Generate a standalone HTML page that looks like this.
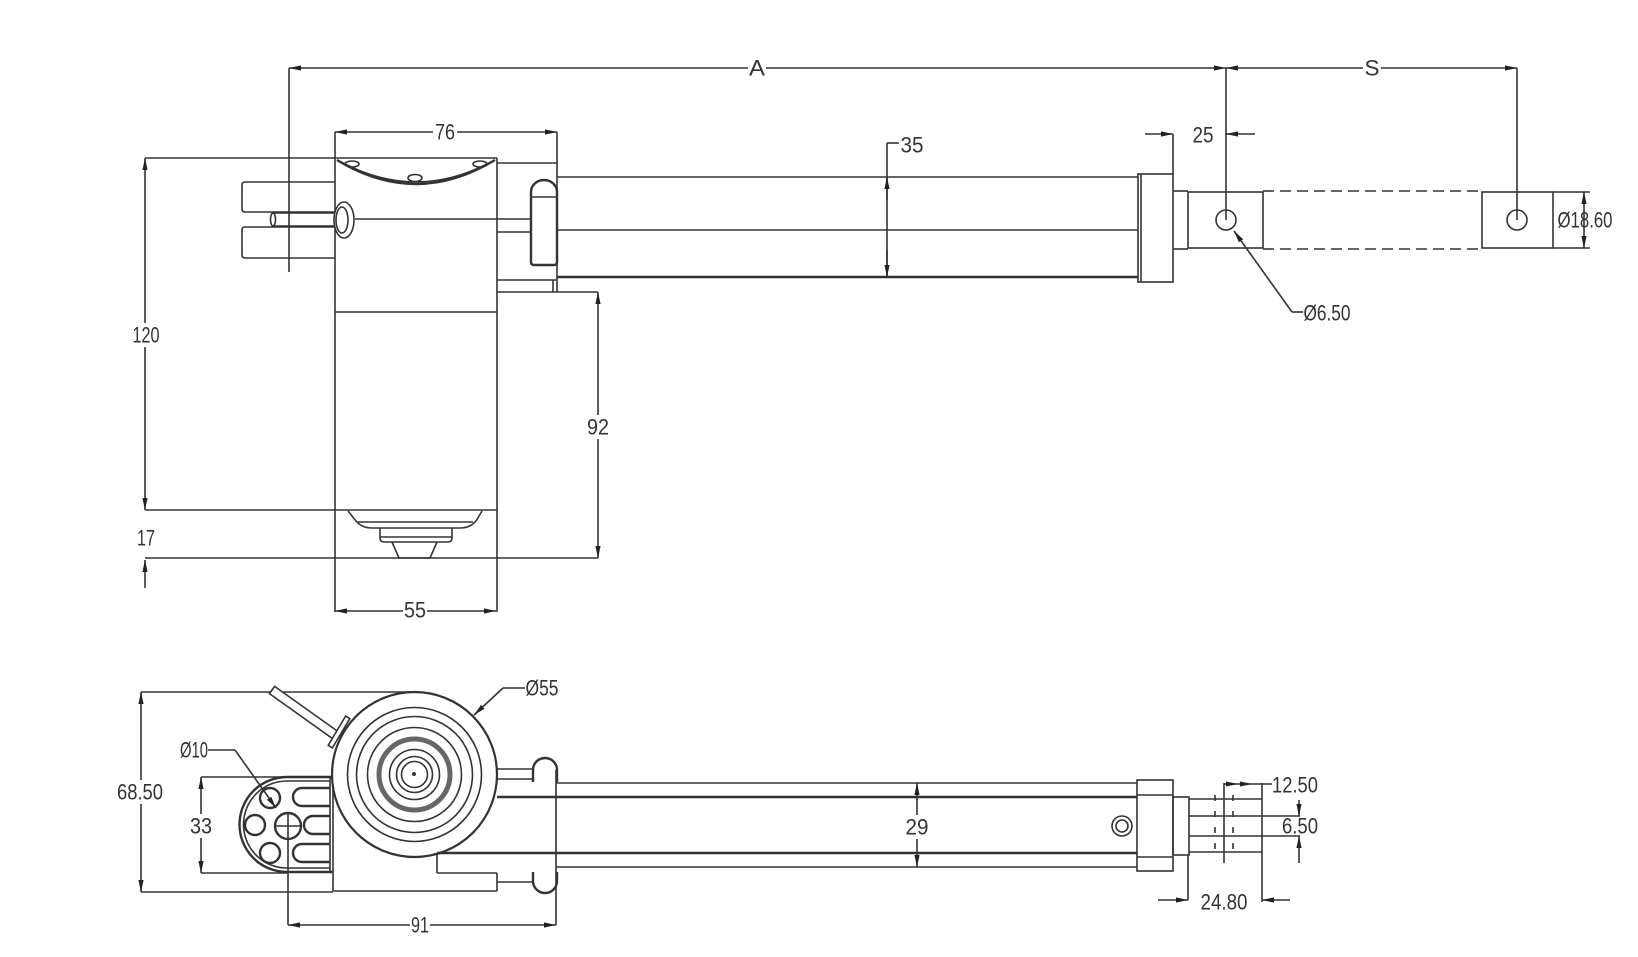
<!DOCTYPE html>
<html>
<head>
<meta charset="utf-8">
<style>
html,body{margin:0;padding:0;background:#fff;}
svg{display:block;}
svg line, svg path, svg rect, svg circle, svg ellipse, svg polygon{stroke:#333;stroke-width:1.6;fill:none;}
svg .ah{fill:#222;stroke:none;}
svg .bg{fill:#fff;stroke:none;}
svg .wf{fill:#fff;}
svg .th{stroke-width:2.4;}
svg text{font-family:"Liberation Sans",sans-serif;font-size:22px;fill:#333;dominant-baseline:central;text-anchor:middle;}
</style>
</head>
<body>
<svg width="1638" height="957" viewBox="0 0 1638 957" xmlns="http://www.w3.org/2000/svg">
<defs>
<marker id="a" viewBox="0 0 12 6" refX="12" refY="3" markerWidth="12" markerHeight="6" markerUnits="userSpaceOnUse" orient="auto-start-reverse">
<path class="ah" d="M0,0.4 L12,3 L0,5.6 z"/>
</marker>
</defs>

<!-- ================= TOP VIEW ================= -->
<!-- A dimension -->
<line x1="289" y1="68" x2="1226" y2="68" marker-start="url(#a)" marker-end="url(#a)"/>
<rect class="bg" x="748" y="56" width="18" height="24"/>
<text x="757" y="68" font-size="26" textLength="16" lengthAdjust="spacingAndGlyphs">A</text>
<!-- S dimension -->
<line x1="1226" y1="68" x2="1517" y2="68" marker-start="url(#a)" marker-end="url(#a)"/>
<rect class="bg" x="1363" y="56" width="18" height="24"/>
<text x="1372" y="68" font-size="26" textLength="15" lengthAdjust="spacingAndGlyphs">S</text>
<line x1="289" y1="68" x2="289" y2="272"/>
<line x1="1226" y1="68" x2="1226" y2="220"/>
<line x1="1517" y1="68" x2="1517" y2="220"/>

<!-- 76 -->
<line x1="335" y1="132" x2="557" y2="132" marker-start="url(#a)" marker-end="url(#a)"/>
<rect class="bg" x="433" y="120" width="24" height="24"/>
<text x="445" y="132" textLength="20" lengthAdjust="spacingAndGlyphs">76</text>
<line x1="335" y1="132" x2="335" y2="159"/>
<line x1="557" y1="132" x2="557" y2="292"/>

<!-- 120 -->
<line x1="145" y1="158" x2="145" y2="510" marker-start="url(#a)" marker-end="url(#a)"/>
<rect class="bg" x="132" y="323" width="29" height="24"/>
<text x="146" y="335" textLength="27" lengthAdjust="spacingAndGlyphs">120</text>
<line x1="145" y1="158" x2="497" y2="158"/>
<line x1="145" y1="510" x2="497" y2="510"/>

<!-- housing -->
<line x1="335" y1="158" x2="335" y2="612"/>
<line x1="497" y1="158" x2="497" y2="612"/>
<path class="th" d="M337,160 Q416,208 495,160"/>
<path d="M343,163 Q416,201 489,163"/>
<ellipse cx="352" cy="164" rx="7" ry="3"/>
<ellipse cx="480" cy="164" rx="7" ry="3"/>
<ellipse cx="415" cy="178" rx="7" ry="3.5"/>
<line x1="335" y1="312" x2="497" y2="312"/>

<!-- left clevis -->
<path d="M335,182 L245,182 Q242,182 242,185 L242,209 Q242,212 245,212 L335,212"/>
<path d="M335,227 L245,227 Q242,227 242,230 L242,255 Q242,258 245,258 L335,258"/>
<line x1="273" y1="213" x2="335" y2="213"/>
<line x1="273" y1="226" x2="335" y2="226"/>
<ellipse cx="273" cy="219.5" rx="2.5" ry="6.5"/>
<ellipse class="wf" cx="344" cy="220" rx="10" ry="18"/>
<ellipse cx="342" cy="220" rx="6" ry="13"/>
<line x1="355" y1="219" x2="531" y2="219"/>

<!-- right block of housing -->
<line x1="497" y1="163" x2="557" y2="163"/>
<line x1="497" y1="232" x2="531" y2="232"/>
<line x1="497" y1="280" x2="557" y2="280"/>
<line x1="497" y1="292" x2="598" y2="292"/>
<line x1="553" y1="280" x2="553" y2="292"/>
<path class="th" d="M531,262 L531,192 A13,12 0 0 1 557,192 L557,262 Q557,265 554,265 L534,265 Q531,265 531,262 Z"/>
<line x1="531" y1="197" x2="557" y2="197"/>

<!-- tube -->
<line x1="557" y1="177" x2="1138" y2="177"/>
<line x1="557" y1="230" x2="1138" y2="230"/>
<line class="th" x1="557" y1="277" x2="1138" y2="277"/>

<!-- 35 -->
<line x1="887" y1="143" x2="887" y2="277"/>
<line x1="887" y1="200" x2="887" y2="177" marker-end="url(#a)"/>
<line x1="887" y1="250" x2="887" y2="277" marker-end="url(#a)"/>
<line x1="887" y1="143" x2="899" y2="143"/>
<text x="912" y="145" textLength="23" lengthAdjust="spacingAndGlyphs">35</text>

<!-- flange / rod / clevis -->
<rect x="1138" y="174" width="35" height="108"/>
<line x1="1141" y1="174" x2="1141" y2="282"/>
<line x1="1173" y1="191" x2="1188" y2="191"/>
<line x1="1173" y1="249" x2="1188" y2="249"/>
<rect x="1188" y="192" width="75" height="56"/>
<circle cx="1226" cy="220" r="10"/>
<line x1="1263" y1="191" x2="1482" y2="191" stroke-dasharray="11 6"/>
<line x1="1263" y1="249" x2="1482" y2="249" stroke-dasharray="11 6"/>
<rect x="1482" y="192" width="71" height="56"/>
<line x1="1553" y1="192" x2="1590" y2="192"/>
<line x1="1553" y1="248" x2="1590" y2="248"/>
<circle cx="1517" cy="220" r="10"/>
<line x1="1584" y1="192" x2="1584" y2="248" marker-start="url(#a)" marker-end="url(#a)"/>
<text x="1585" y="220" textLength="55" lengthAdjust="spacingAndGlyphs">Ø18.60</text>

<!-- 25 -->
<line x1="1145" y1="134" x2="1173" y2="134" marker-end="url(#a)"/>
<line x1="1173" y1="134" x2="1173" y2="174"/>
<line x1="1255" y1="134" x2="1226" y2="134" marker-end="url(#a)"/>
<text x="1203" y="135" textLength="21" lengthAdjust="spacingAndGlyphs">25</text>

<!-- Ø6.50 -->
<line x1="1292" y1="312" x2="1234" y2="231" marker-end="url(#a)"/>
<line x1="1292" y1="312" x2="1303" y2="312"/>
<text x="1327" y="313" textLength="47" lengthAdjust="spacingAndGlyphs">Ø6.50</text>

<!-- motor bottom cap -->
<path d="M348,511 L356,521 Q362,528 372,528 L460,528 Q470,528 476,521 L482,511"/>
<line x1="358" y1="522" x2="473" y2="522"/>
<path d="M380,528 L380,538 Q380,542 384,542 L448,542 Q452,542 452,538 L452,528"/>
<line x1="380" y1="537" x2="452" y2="537"/>
<path d="M392,542 L399,558 L430,558 L437,542"/>

<!-- 17 -->
<line x1="145" y1="558" x2="598" y2="558"/>
<line x1="145" y1="588" x2="145" y2="560" marker-end="url(#a)"/>
<text x="146" y="538" textLength="18" lengthAdjust="spacingAndGlyphs">17</text>

<!-- 92 -->
<line x1="598" y1="292" x2="598" y2="558" marker-start="url(#a)" marker-end="url(#a)"/>
<rect class="bg" x="586" y="415" width="24" height="24"/>
<text x="598" y="427" textLength="22" lengthAdjust="spacingAndGlyphs">92</text>

<!-- 55 -->
<line x1="335" y1="611" x2="496" y2="611" marker-start="url(#a)" marker-end="url(#a)"/>
<rect class="bg" x="403" y="599" width="24" height="24"/>
<text x="415" y="610" textLength="22" lengthAdjust="spacingAndGlyphs">55</text>

<!-- ================= BOTTOM VIEW ================= -->
<!-- 68.50 -->
<line x1="141" y1="692" x2="141" y2="892" marker-start="url(#a)" marker-end="url(#a)"/>
<line x1="141" y1="692" x2="414" y2="692"/>
<line x1="141" y1="892" x2="333" y2="892"/>
<rect class="bg" x="116" y="780" width="48" height="24"/>
<text x="140" y="792" textLength="46" lengthAdjust="spacingAndGlyphs">68.50</text>

<!-- 33 -->
<line x1="201" y1="777" x2="201" y2="873" marker-start="url(#a)" marker-end="url(#a)"/>
<line x1="201" y1="777" x2="330" y2="777"/>
<line x1="201" y1="873" x2="287" y2="873"/>
<rect class="bg" x="189" y="814" width="24" height="24"/>
<text x="201" y="826" textLength="22" lengthAdjust="spacingAndGlyphs">33</text>

<!-- D-shape end with holes -->
<path class="wf th" d="M333,777 L287,777 A47.5,47.5 0 0 0 287,872 L333,872"/>
<path d="M330,781 L287,781 A43.5,43.5 0 0 0 287,868 L330,868"/>
<line x1="330" y1="777" x2="330" y2="872"/>
<circle class="th" cx="270" cy="798" r="10"/>
<circle class="th" cx="255" cy="825" r="10"/>
<circle class="th" cx="270" cy="853" r="10"/>
<circle class="th" cx="288" cy="826" r="13"/>
<line x1="275" y1="826" x2="301" y2="826"/>
<line x1="288" y1="812" x2="288" y2="925"/>
<path class="th" d="M330,788 L302,788 A9,9 0 0 0 302,806 L330,806"/>
<path class="th" d="M330,816 L313,816 A9,9 0 0 0 313,834 L330,834"/>
<path class="th" d="M330,844 L302,844 A9,9 0 0 0 302,862 L330,862"/>

<!-- Ø10 -->
<text x="194" y="750" textLength="28" lengthAdjust="spacingAndGlyphs">Ø10</text>
<line x1="208" y1="750" x2="235" y2="750"/>
<line x1="235" y1="750" x2="276" y2="808" marker-end="url(#a)"/>

<!-- body -->
<line x1="333" y1="773" x2="333" y2="891"/>
<line x1="333" y1="891" x2="497" y2="891"/>
<line x1="497" y1="873" x2="497" y2="891"/>
<line x1="437" y1="853" x2="437" y2="873"/>
<line x1="437" y1="873" x2="497" y2="873"/>

<!-- cable -->
<polygon class="wf" points="274.6,686.4 340.6,733.4 335.4,740.6 269.4,693.6"/>
<polygon class="wf" points="332.4,747.9 349.8,718.7 345.6,716.1 328.2,745.3"/>

<!-- big circle -->
<circle class="wf" cx="414.5" cy="774.5" r="82.5" style="stroke-width:2.2"/>
<circle cx="414.5" cy="774.5" r="67"/>
<circle cx="414.5" cy="774.5" r="58"/>
<circle cx="414.5" cy="774.5" r="47"/>
<circle cx="414.5" cy="774.5" r="35.5" style="stroke:#666;stroke-width:5"/>
<circle cx="414.5" cy="774.5" r="25"/>
<circle cx="414.5" cy="774.5" r="18"/>
<circle cx="414.5" cy="774.5" r="13"/>
<circle cx="414" cy="774" r="1.2" style="fill:#333"/>

<!-- Ø55 -->
<line x1="503" y1="688" x2="474" y2="715" marker-end="url(#a)"/>
<line x1="503" y1="688" x2="525" y2="688"/>
<text x="542" y="688" textLength="33" lengthAdjust="spacingAndGlyphs">Ø55</text>

<!-- right of circle / flange knobs -->
<line x1="497" y1="769" x2="533" y2="769"/>
<line x1="497" y1="779" x2="533" y2="779"/>
<line x1="497" y1="882" x2="533" y2="882"/>
<path class="th" d="M533,782 L533,770 A12,12 0 0 1 557,770 L557,782"/>
<path class="th" d="M533,872 L533,881 A12,12 0 0 0 557,881 L557,872"/>
<line x1="556" y1="770" x2="556" y2="925"/>

<!-- tube -->
<line x1="556" y1="783" x2="1137" y2="783"/>
<line x1="497" y1="797" x2="1137" y2="797" style="stroke-width:2.6"/>
<line x1="437" y1="853" x2="1137" y2="853" style="stroke-width:2.6"/>
<line x1="556" y1="867" x2="1137" y2="867"/>

<!-- 29 -->
<line x1="917" y1="783" x2="917" y2="867" marker-start="url(#a)" marker-end="url(#a)"/>
<rect class="bg" x="905" y="815" width="24" height="24"/>
<text x="917" y="827" textLength="23" lengthAdjust="spacingAndGlyphs">29</text>

<circle cx="1122" cy="826" r="10"/>
<circle cx="1122" cy="826" r="6"/>

<!-- flange / rod -->
<rect x="1137" y="780" width="36" height="91"/>
<line x1="1137" y1="795" x2="1173" y2="795"/>
<line x1="1137" y1="857" x2="1173" y2="857"/>
<rect x="1173" y="797" width="16" height="58"/>
<line x1="1189" y1="799" x2="1262" y2="799"/>
<line x1="1189" y1="852" x2="1262" y2="852"/>
<line x1="1189" y1="816" x2="1300" y2="816"/>
<line x1="1189" y1="836" x2="1300" y2="836"/>
<line x1="1224" y1="783" x2="1224" y2="863"/>
<line x1="1262" y1="783" x2="1262" y2="902"/>
<line x1="1215" y1="795" x2="1215" y2="858" stroke-dasharray="6 10"/>
<line x1="1233" y1="795" x2="1233" y2="858" stroke-dasharray="6 10"/>

<!-- 12.50 -->
<line x1="1224" y1="784" x2="1272" y2="784"/>
<polygon class="ah" points="1226,781.5 1238,784 1226,786.5"/>
<polygon class="ah" points="1240,781.5 1252,784 1240,786.5"/>
<text x="1295" y="785" textLength="46" lengthAdjust="spacingAndGlyphs">12.50</text>

<!-- 6.50 -->
<line x1="1299" y1="800" x2="1299" y2="816" marker-end="url(#a)"/>
<line x1="1299" y1="863" x2="1299" y2="836" marker-end="url(#a)"/>
<text x="1300" y="826" textLength="36" lengthAdjust="spacingAndGlyphs">6.50</text>

<!-- 24.80 -->
<line x1="1158" y1="900" x2="1188" y2="900" marker-end="url(#a)"/>
<line x1="1188" y1="855" x2="1188" y2="900"/>
<line x1="1290" y1="900" x2="1262" y2="900" marker-end="url(#a)"/>
<text x="1224" y="902" textLength="47" lengthAdjust="spacingAndGlyphs">24.80</text>

<!-- 91 -->
<line x1="288" y1="925" x2="556" y2="925" marker-start="url(#a)" marker-end="url(#a)"/>
<rect class="bg" x="410" y="913" width="20" height="24"/>
<text x="420" y="925" textLength="18" lengthAdjust="spacingAndGlyphs">91</text>
</svg>
</body>
</html>
